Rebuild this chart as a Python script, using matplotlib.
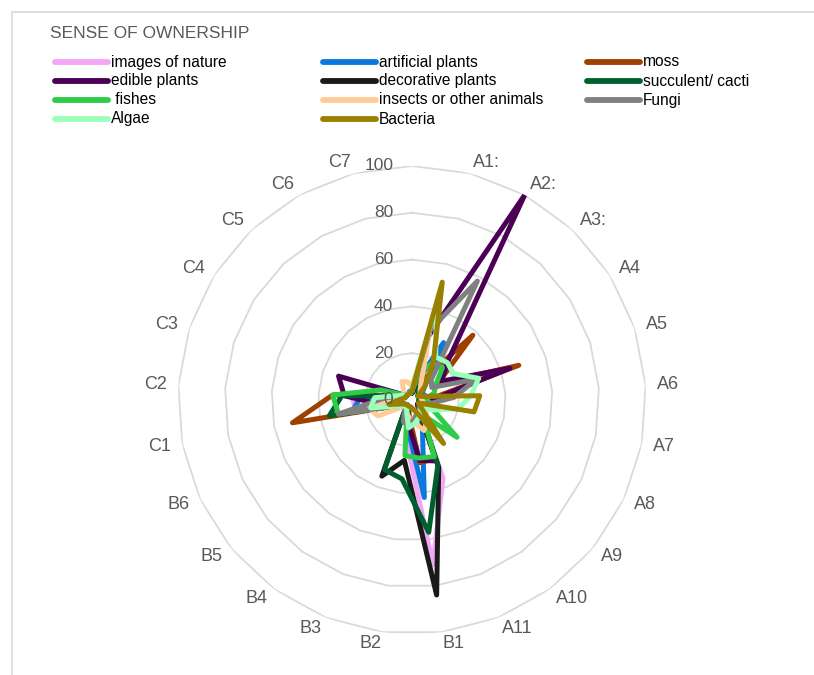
import numpy as np
import matplotlib
matplotlib.use("Agg")
import matplotlib.pyplot as plt
from matplotlib.lines import Line2D

plt.rcParams['font.family'] = ['Liberation Sans', 'DejaVu Sans']

title = "SENSE OF OWNERSHIP"
categories = ['', 'A1:', 'A2:', 'A3:', 'A4', 'A5', 'A6', 'A7', 'A8', 'A9', 'A10', 'A11',
              'B1', 'B2', 'B3', 'B4', 'B5', 'B6', 'C1', 'C2', 'C3', 'C4', 'C5', 'C6', 'C7']
radial_ticks = [0, 20, 40, 60, 80, 100]

series_names = ['images of nature', 'artificial plants', 'moss', 'edible plants',
                'decorative plants', 'succulent/ cacti', ' fishes', 'insects or other animals',
                'Fungi', 'Algae', 'Bacteria']

images_of_nature = [3, 4, 5, 4, 3, 5, 4, 3, 3, 4, 6, 36, 71, 18, 6, 3, 3, 5, 24, 26, 6, 3, 3, 3, 3]
artificial_plants = [4, 8, 28, 8, 5, 6, 4, 3, 3, 4, 6, 12, 42, 13, 5, 3, 3, 4, 26, 22, 6, 3, 3, 3, 4]
moss = [3, 8, 10, 38, 13, 48, 8, 5, 3, 3, 5, 27, 27, 8, 4, 3, 3, 5, 52, 34, 6, 3, 3, 3, 3]
edible_plants = [4, 28, 100, 22, 15, 44, 10, 4, 3, 3, 5, 28, 26, 11, 5, 3, 3, 6, 12, 29, 33, 4, 3, 3, 3]
decorative_plants = [3, 5, 6, 4, 3, 4, 3, 3, 3, 4, 6, 31, 84, 26, 35, 5, 3, 4, 6, 5, 4, 3, 3, 3, 3]
succulent_cacti = [3, 5, 6, 4, 3, 4, 3, 3, 3, 4, 6, 30, 57, 34, 32, 5, 3, 5, 36, 30, 5, 3, 3, 3, 3]
fishes = [4, 12, 18, 19, 12, 10, 6, 8, 10, 25, 8, 26, 25, 24, 6, 3, 3, 5, 32, 34, 14, 4, 3, 3, 3]
insects = [6, 31, 8, 5, 4, 4, 4, 5, 6, 8, 11, 14, 10, 8, 6, 5, 4, 16, 19, 8, 5, 4, 5, 9, 8]
fungi = [4, 31, 58, 12, 10, 29, 18, 8, 4, 4, 5, 6, 8, 11, 10, 5, 4, 5, 32, 12, 6, 4, 3, 3, 3]
algae = [5, 42, 21, 22, 21, 30, 25, 20, 10, 5, 6, 8, 10, 12, 6, 4, 4, 6, 18, 16, 6, 4, 3, 3, 3]
bacteria = [4, 52, 19, 8, 3, 5, 29, 27, 3, 5, 23, 6, 4, 3, 3, 3, 3, 4, 10, 5, 3, 3, 3, 3, 3]

all_series = [images_of_nature, artificial_plants, moss, edible_plants, decorative_plants,
              succulent_cacti, fishes, insects, fungi, algae, bacteria]
colors = ['#F2A7F5', '#0A78DC', '#A04000', '#4B0055', '#1A1A1A', '#005F2E',
          '#2ECC48', '#FFCC99', '#808080', '#99FFBB', '#998000']

W, H = 814, 675
fig = plt.figure(figsize=(W / 100, H / 100), dpi=100)
fig.patch.set_facecolor('white')

# chart border (top and left visible, rest runs off the canvas)
fig.add_artist(plt.Rectangle((12 / W, -0.1), 1.5, 1.1 - 12 / H, transform=fig.transFigure,
                             fill=False, edgecolor='#D9D9D9', linewidth=1.2))

cx, cy, R = 412, 400, 234
ax = fig.add_axes([(cx - R) / W, (H - cy - R) / H, 2 * R / W, 2 * R / H], projection='polar')
ax.set_theta_zero_location('N')
ax.set_theta_direction(-1)
ax.set_ylim(0, 100)
ax.set_xticks([])
ax.set_yticks([])
ax.grid(False)
ax.spines['polar'].set_visible(False)
ax.patch.set_alpha(0)

n = len(categories)
theta = np.arange(n) * 2 * np.pi / n
theta_c = np.append(theta, theta[0])

for r in radial_ticks[1:]:
    ax.plot(theta_c, [r] * (n + 1), color='#D9D9D9', lw=1.3, zorder=1)

for r in radial_ticks:
    ax.annotate(str(r), xy=(0, r), xytext=(-13.5, 0), textcoords='offset points',
                ha='right', va='center', fontsize=12.5, color='#595959', zorder=5)

for t, lab in zip(theta, categories):
    if not lab:
        continue
    s = np.sin(t)
    ha = 'left' if s > 0.01 else ('right' if s < -0.01 else 'center')
    ax.text(t, 105, lab, ha=ha, va='center', fontsize=13, color='#595959')

for vals, col in zip(all_series, colors):
    v = list(vals) + [vals[0]]
    ax.plot(theta_c, v, color=col, lw=3.6, solid_joinstyle='round', solid_capstyle='round', zorder=3)

# title
fig.text(50 / W, 1 - 33 / H, title, ha='left', va='center', fontsize=12.5, color='#595959')

# legend
col_x = [55, 323, 587]
row_y = [62, 81, 100, 119]
for i, (name, col) in enumerate(zip(series_names, colors)):
    r_, c_ = divmod(i, 3)
    x0 = col_x[c_]
    y = 1 - row_y[r_] / H
    fig.add_artist(Line2D([x0 / W, (x0 + 53) / W], [y, y], transform=fig.transFigure,
                          color=col, lw=4.2, solid_capstyle='round'))
    fig.text((x0 + 56) / W, y, name, ha='left', va='center', fontsize=11.2, color='#000000')

fig.savefig('out.png', dpi=100)
